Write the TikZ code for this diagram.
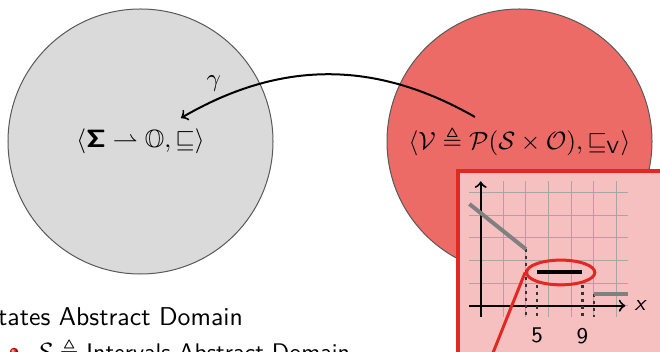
\documentclass[tikz,border=0pt]{standalone}
\usepackage{amsmath, amssymb}
\usetikzlibrary{shapes, arrows, positioning, calc}
\DeclareMathAlphabet{\mathsfbx}{OT1}{cmss}{bx}{n}

\definecolor{concgray}{RGB}{218,218,218}
\definecolor{abscol}{RGB}{236,107,102}
\definecolor{insetfill}{RGB}{247,192,192}
\definecolor{insetred}{RGB}{226,40,32}

\begin{document}
\begin{tikzpicture}[x=0.4pt, y=-0.4pt,
    domainnode/.style={circle, draw=black!65, minimum size=106pt, inner sep=0pt, font=\fontsize{10}{12}\selectfont},
    griddot/.style={dash pattern=on 1.1pt off 1.7pt, line width=0.9pt, black!80},
    plotpiece/.style={line width=1.6pt, black!50},
    ticklbl/.style={font=\sffamily\small, below}]
    \useasboundingbox (0,0) rectangle (660,352);
    \clip (0,0) rectangle (660,352);

    % 两个域
    \node[domainnode, fill=concgray] (concrete) at (140.5,141.5) {$\langle \mathsfbx{\Sigma} \rightharpoonup \mathbb{O}, \sqsubseteq \rangle$};
    \node[domainnode, fill=abscol] (abstract) at (519.5,141.5) {$\langle \mathcal{V} \triangleq \mathcal{P}(\mathcal{S} \times \mathcal{O}), \sqsubseteq_{\mathsf{V}} \rangle$};

    % 具体化
    \coordinate (gammafrom) at (475,117);
    \coordinate (gammato) at (181,118);
    \draw[->, thick] (gammafrom) to[bend right=30] node[pos=0.89, above=0pt] (gammalbl) {$\gamma$} (gammato);

    % 文字
    \node[anchor=base west, font=\sffamily\fontsize{10.3}{12}\selectfont] (states) at (-25,326) {States Abstract Domain};
    \node[circle, ball color=red, inner sep=0pt, minimum size=3.4pt] (bullet) at (14,352) {};
    \node[anchor=base west, font=\sffamily\fontsize{9.6}{11}\selectfont] (intervals) at (27,361) {$\mathcal{S} \triangleq$ Intervals Abstract Domain};

    % 放大框
    \draw[insetred, line width=1.5pt, fill=insetfill] (458,171) rectangle (720,420);
    \begin{scope}[shift={(480.7,305.7)}, x=9.04pt, y=9.04pt]
        \draw[black!35, thin, step=1] (-0.5,-0.5) grid (6.5,5.5);
        \draw[->, thick] (-0.5,0) -- (6.4,0) node[right, font=\sffamily\small\itshape] (xlbl) {x};
        \draw[->, thick] (0,-0.5) -- (0,5.5);
        \draw[griddot] (2,2.5) -- (2,-0.5);
        \draw[griddot] (2.5,0.9) -- (2.5,-0.5);
        \draw[griddot] (4.5,0.9) -- (4.5,-0.5);
        \draw[griddot] (5,0.5) -- (5,-0.5);
        \draw[plotpiece] (-0.5,4.5) -- (2,2.5);
        \draw[plotpiece] (5,0.5) -- (6.5,0.5);
        \node[ticklbl] (five) at (2.5,-0.6) {5};
        \node[ticklbl] (nine) at (4.5,-0.6) {9};
        \node[ellipse, draw=insetred, line width=1.2pt, minimum width=27.3pt, minimum height=9.9pt, inner sep=0pt] (zoomsel) at (3.54,1.47) {};
        \draw[line width=1.6pt] (2.5,1.5) -- (4.5,1.5);
        \coordinate (zoomtarget) at (-0.3,-4.2);
        \draw[insetred, line width=1.2pt] (zoomsel.west) -- (zoomtarget);
    \end{scope}
\end{tikzpicture}
\end{document}
